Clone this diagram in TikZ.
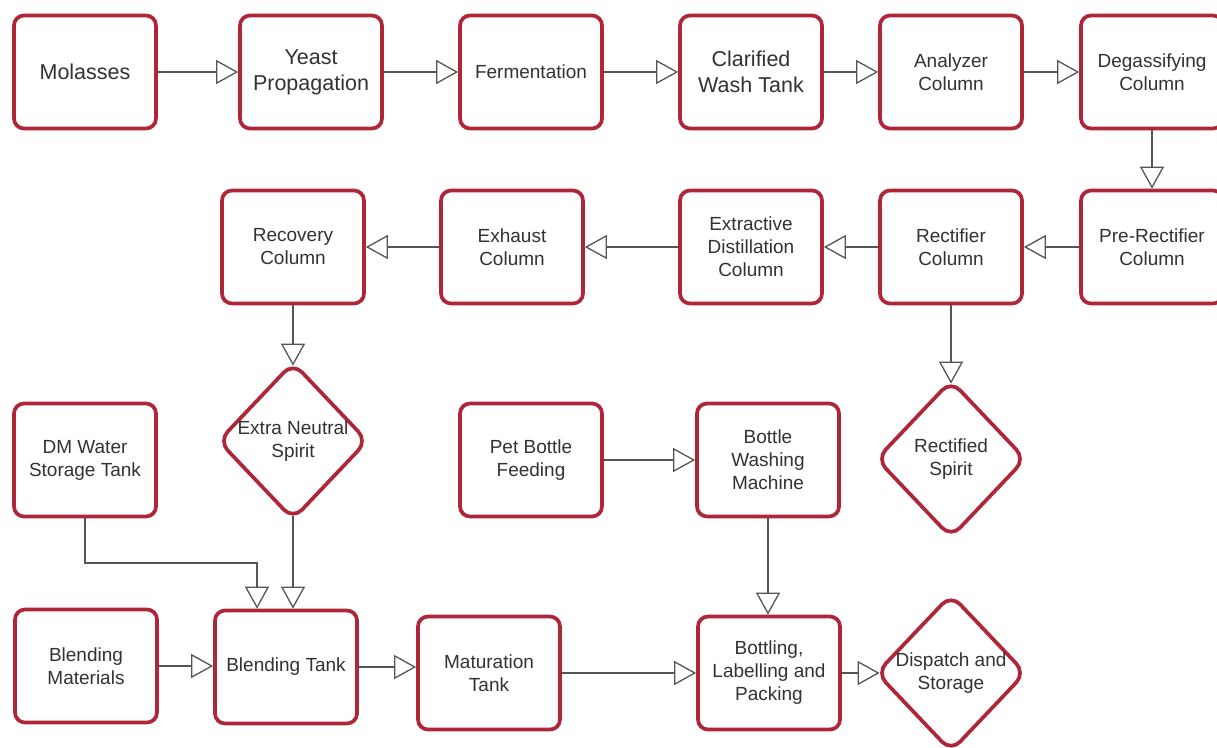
\documentclass[tikz,border=0pt]{standalone}
\usepackage{fontspec}
\setmainfont{Liberation Sans}
\usetikzlibrary{arrows.meta,shapes.geometric}
\definecolor{boxred}{RGB}{175,38,56}
\definecolor{txt}{RGB}{50,50,50}
\definecolor{ln}{RGB}{85,85,85}
\begin{document}
\begin{tikzpicture}[x=1pt,y=-1pt,
  box/.style={draw=boxred, line width=3.7pt, rounded corners=10pt, fill=white,
    minimum width=142pt, minimum height=113pt, align=center, text=txt,
    font=\fontsize{19}{23}\selectfont, inner sep=0pt},
  big/.style={font=\fontsize{21.5}{26}\selectfont},
  dia/.style={diamond, draw=boxred, line width=3.7pt, rounded corners=13pt, fill=white,
    minimum width=150pt, minimum height=158pt, inner sep=0pt},
  lbl/.style={align=center, text=txt, font=\fontsize{19}{23}\selectfont, inner sep=0pt},
  flow/.style={draw=ln, line width=2pt,
    -{Triangle[open, length=22pt, width=24pt, line width=1.3pt]}},
]
\useasboundingbox (0,0) rectangle (1217,747);
\clip (0,0) rectangle (1217,747);
% row 1
\node[box,big] (mol) at (85,72) {Molasses};
\node[box,big] (yp) at (311,72) {Yeast\\Propagation};
\node[box] (fer) at (531,72) {Fermentation};
\node[box,big] (cwt) at (751,72) {Clarified\\Wash Tank};
\node[box] (ac) at (951,72) {Analyzer\\Column};
\node[box] (dc) at (1152,72) {Degassifying\\Column};
% row 2
\node[box] (prc) at (1152,247) {Pre-Rectifier\\Column};
\node[box] (rc) at (951,247) {Rectifier\\Column};
\node[box] (edc) at (751,247) {Extractive\\Distillation\\Column};
\node[box] (exc) at (512,247) {Exhaust\\Column};
\node[box] (rec) at (293,247) {Recovery\\Column};
% diamonds
\node[dia] (ens) at (293,441) {};
\node[lbl] (ens-t) at (ens.center) {Extra Neutral\\Spirit};
\node[dia] (rs) at (951,459) {};
\node[lbl] (rs-t) at (rs.center) {Rectified\\Spirit};
% row 3
\node[box] (dm) at (85,460) {DM Water\\Storage Tank};
\node[box] (pbf) at (531,460) {Pet Bottle\\Feeding};
\node[box] (bwm) at (768,460) {Bottle\\Washing\\Machine};
% row 4
\node[box] (bm) at (86,666) {Blending\\Materials};
\node[box] (bt) at (286,667) {Blending Tank};
\node[box] (mt) at (489,673) {Maturation\\Tank};
\node[box] (blp) at (769,673) {Bottling,\\Labelling and\\Packing};
\node[dia] (ds) at (951,673) {};
\node[lbl] (ds-t) at (ds.center) {Dispatch and\\Storage};
% connectors row 1
\draw[flow] (mol) -- (yp);
\draw[flow] (yp) -- (fer);
\draw[flow] (fer) -- (cwt);
\draw[flow] (cwt) -- (ac);
\draw[flow] (ac) -- (dc);
\draw[flow] (dc) -- (prc);
% row 2
\draw[flow] (prc) -- (rc);
\draw[flow] (rc) -- (edc);
\draw[flow] (edc) -- (exc);
\draw[flow] (exc) -- (rec);
\draw[flow] (rec) -- ([yshift=-5.5pt]ens.north);
\draw[flow] (rc) -- ([yshift=-5.5pt]rs.north);
% row 3/4
\draw[flow] ([yshift=5.5pt]ens.south) -- (ens.south |- bt.north);
\coordinate (dmturn) at (257,563);
\draw[flow] (dm.south) |- (dmturn) -- (dmturn |- bt.north);
\draw[flow] (pbf) -- (bwm);
\draw[flow] (bwm.south) -- (bwm.south |- blp.north);
\draw[flow] (bm.east) -- (bm.east -| bt.west);
\draw[flow] (bt.east) -- (bt.east -| mt.west);
\draw[flow] (mt) -- (blp);
\draw[flow] (blp) -- ([xshift=5.5pt]ds.west);
\end{tikzpicture}
\end{document}
